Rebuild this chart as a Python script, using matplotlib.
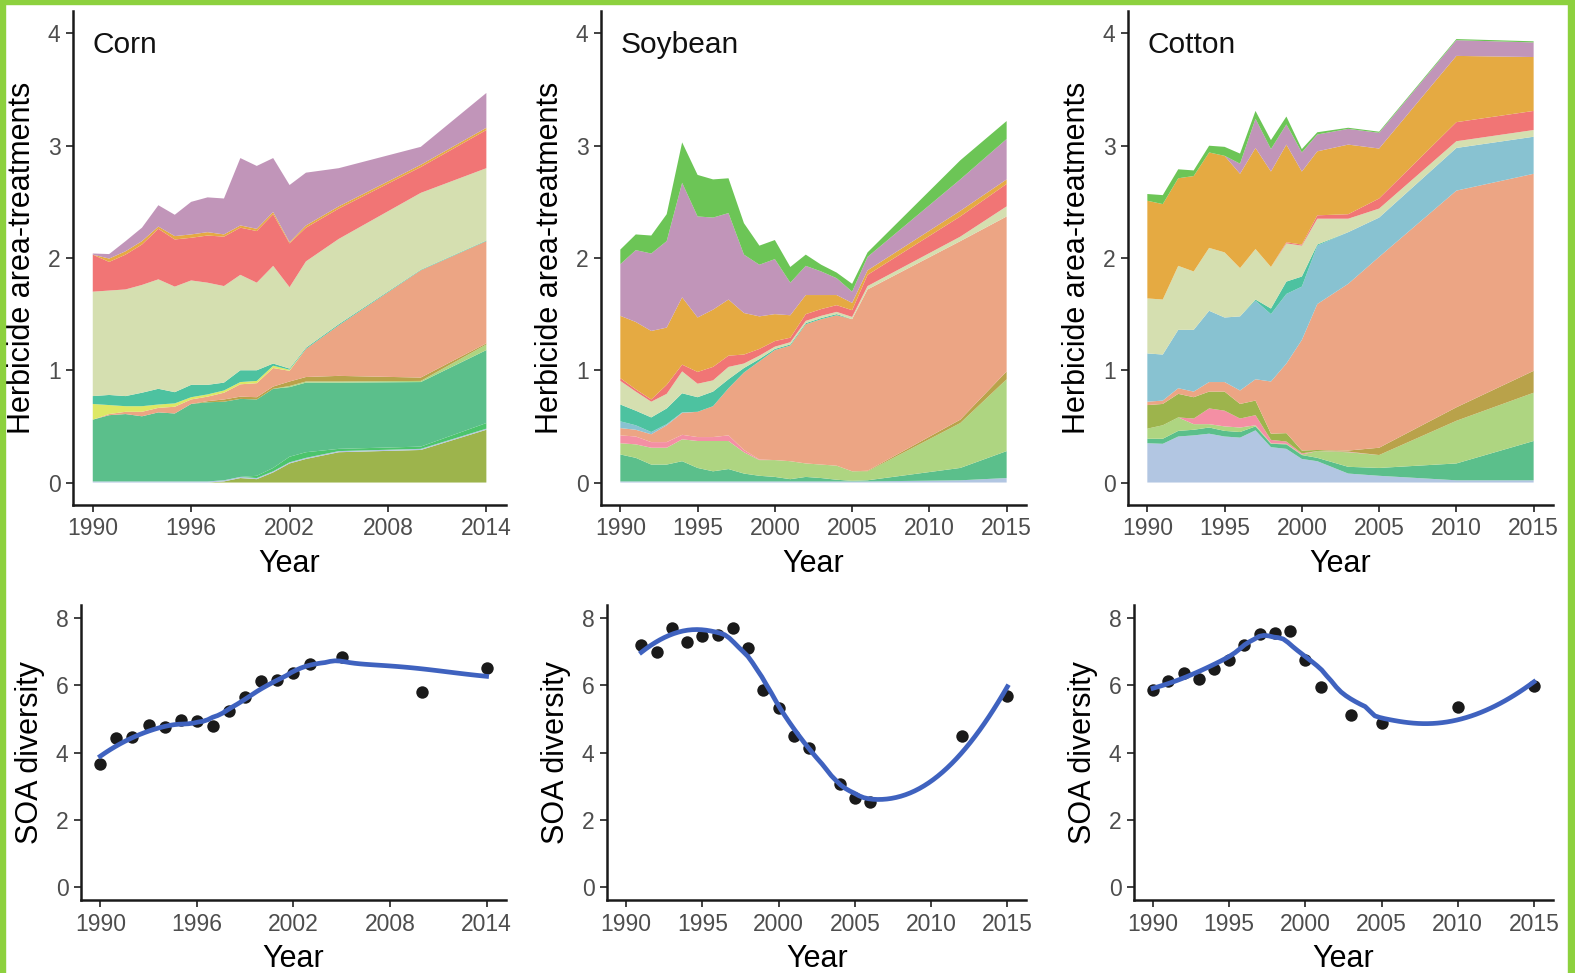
import numpy as np
import matplotlib
matplotlib.use("Agg")
import matplotlib.pyplot as plt
from matplotlib.patches import Rectangle

plt.rcParams['font.family'] = ['Liberation Sans', 'DejaVu Sans']

# colours of the herbicide groups
c_lightblue = '#B2C6E2'
c_medgreen = '#5BBF8B'
c_green2 = '#4CC46C'
c_lightgreen = '#AED581'
c_pink = '#F48FA4'
c_olive = '#9DB44C'
c_brown = '#B9A24A'
c_salmon = '#ECA584'
c_skyblue = '#88C2D1'
c_teal = '#4DC2A0'
c_yellow = '#DDE865'
c_sage = '#D5DFB0'
c_red = '#F17575'
c_orange = '#E5AA42'
c_purple = '#C195B9'
c_topgreen = '#6CC556'

# ---------------- CORN (area-treatments) ----------------
corn_years = [1990, 1991, 1992, 1993, 1994, 1995, 1996, 1997, 1998, 1999, 2000, 2001, 2002, 2003, 2005, 2010, 2014]
corn_olive = [0, 0, 0, 0, 0, 0, 0, 0, 0.01, 0.04, 0.03, 0.09, 0.17, 0.21, 0.27, 0.29, 0.47]
corn_lightblue = [0.01, 0.01, 0.01, 0.01, 0.01, 0.01, 0.01, 0.01, 0.01, 0.01, 0.01, 0.01, 0.01, 0.01, 0.01, 0.01, 0.01]
corn_green2 = [0, 0, 0, 0, 0, 0, 0, 0, 0, 0, 0.02, 0.03, 0.05, 0.05, 0.02, 0.02, 0.05]
corn_medgreen = [0.55, 0.59, 0.60, 0.58, 0.615, 0.605, 0.69, 0.705, 0.70, 0.695, 0.68, 0.705, 0.62, 0.62, 0.59, 0.575, 0.65]
corn_lightgreen = [0, 0, 0, 0, 0, 0, 0, 0, 0, 0, 0, 0, 0.01, 0.01, 0.01, 0.01, 0.05]
corn_brown = [0, 0, 0, 0, 0, 0, 0, 0.01, 0.02, 0.02, 0.02, 0.02, 0.04, 0.04, 0.05, 0.03, 0.01]
corn_salmon = [0, 0.01, 0.02, 0.04, 0.04, 0.06, 0.04, 0.04, 0.06, 0.11, 0.125, 0.165, 0.095, 0.25, 0.45, 0.955, 0.91]
corn_yellow = [0.14, 0.08, 0.05, 0.05, 0.03, 0.03, 0.02, 0.02, 0.02, 0.02, 0.02, 0.02, 0.01, 0, 0, 0, 0]
corn_teal = [0.07, 0.09, 0.09, 0.12, 0.14, 0.10, 0.11, 0.085, 0.07, 0.105, 0.095, 0.02, 0.01, 0.01, 0.01, 0.005, 0.005]
corn_sage = [0.93, 0.93, 0.95, 0.96, 0.975, 0.94, 0.93, 0.91, 0.86, 0.85, 0.78, 0.87, 0.725, 0.77, 0.76, 0.685, 0.645]
corn_red = [0.33, 0.255, 0.31, 0.36, 0.45, 0.42, 0.38, 0.42, 0.44, 0.42, 0.46, 0.46, 0.39, 0.30, 0.27, 0.23, 0.34]
corn_orange = [0.0, 0.03, 0.03, 0.03, 0.02, 0.03, 0.03, 0.03, 0.02, 0.02, 0.02, 0.02, 0.01, 0.02, 0.02, 0.02, 0.02]
corn_purple = [0.01, 0.04, 0.09, 0.12, 0.19, 0.19, 0.29, 0.31, 0.32, 0.60, 0.56, 0.48, 0.51, 0.47, 0.34, 0.16, 0.31]

# ---------------- SOYBEAN ----------------
soy_years = [1990, 1991, 1992, 1993, 1994, 1995, 1996, 1997, 1998, 1999, 2000, 2001, 2002, 2003, 2004, 2005, 2006, 2012, 2015]
soy_lightblue = [0.01, 0.01, 0.01, 0.01, 0.01, 0.01, 0.01, 0.01, 0.01, 0.01, 0.01, 0.01, 0.01, 0.01, 0.01, 0.01, 0.01, 0.02, 0.04]
soy_medgreen = [0.24, 0.21, 0.15, 0.15, 0.18, 0.12, 0.09, 0.11, 0.07, 0.05, 0.04, 0.02, 0.04, 0.03, 0.015, 0.005, 0.01, 0.11, 0.24]
soy_lightgreen = [0.10, 0.12, 0.15, 0.15, 0.195, 0.24, 0.27, 0.25, 0.19, 0.14, 0.15, 0.16, 0.12, 0.12, 0.125, 0.085, 0.08, 0.40, 0.64]
soy_brown = [0, 0, 0, 0, 0, 0, 0, 0, 0, 0, 0, 0, 0, 0, 0, 0, 0.005, 0.03, 0.07]
soy_pink = [0.07, 0.07, 0.05, 0.05, 0.04, 0.035, 0.035, 0.05, 0.02, 0.005, 0, 0, 0, 0, 0, 0, 0, 0, 0]
soy_salmon = [0.065, 0.06, 0.07, 0.15, 0.195, 0.225, 0.275, 0.42, 0.69, 0.875, 0.98, 1.03, 1.24, 1.295, 1.34, 1.355, 1.615, 1.59, 1.38]
soy_skyblue = [0.06, 0.04, 0.02, 0.01, 0.005, 0, 0, 0, 0, 0, 0, 0, 0, 0, 0, 0, 0, 0, 0]
soy_teal = [0.15, 0.13, 0.13, 0.14, 0.17, 0.13, 0.13, 0.08, 0.04, 0.02, 0.01, 0.01, 0.01, 0.01, 0.01, 0, 0, 0, 0]
soy_sage = [0.21, 0.17, 0.14, 0.13, 0.195, 0.12, 0.10, 0.11, 0.04, 0.03, 0.02, 0.02, 0.02, 0.02, 0.02, 0.02, 0.03, 0.04, 0.09]
soy_red = [0.025, 0.02, 0.02, 0.08, 0.06, 0.105, 0.12, 0.10, 0.08, 0.06, 0.05, 0.04, 0.06, 0.06, 0.06, 0.06, 0.10, 0.18, 0.20]
soy_orange = [0.555, 0.60, 0.61, 0.51, 0.60, 0.485, 0.51, 0.50, 0.37, 0.29, 0.24, 0.20, 0.17, 0.125, 0.09, 0.065, 0.04, 0.05, 0.04]
soy_purple = [0.46, 0.64, 0.69, 0.77, 1.02, 0.90, 0.82, 0.77, 0.52, 0.46, 0.49, 0.29, 0.26, 0.21, 0.15, 0.10, 0.12, 0.28, 0.36]
soy_topgreen = [0.13, 0.14, 0.16, 0.24, 0.36, 0.37, 0.34, 0.31, 0.28, 0.17, 0.17, 0.14, 0.10, 0.06, 0.05, 0.07, 0.04, 0.17, 0.16]

# ---------------- COTTON ----------------
cot_years = [1990, 1991, 1992, 1993, 1994, 1995, 1996, 1997, 1998, 1999, 2000, 2001, 2003, 2005, 2010, 2015]
cot_lightblue = [0.35, 0.345, 0.41, 0.42, 0.435, 0.41, 0.40, 0.465, 0.315, 0.30, 0.21, 0.19, 0.08, 0.06, 0.02, 0.02]
cot_medgreen = [0.04, 0.045, 0.05, 0.05, 0.055, 0.05, 0.05, 0.035, 0.03, 0.04, 0.035, 0.03, 0.06, 0.07, 0.15, 0.35]
cot_lightgreen = [0.09, 0.12, 0.12, 0.05, 0.03, 0.04, 0.04, 0.01, 0.005, 0.005, 0.005, 0.06, 0.13, 0.115, 0.38, 0.43]
cot_pink = [0, 0, 0, 0.05, 0.14, 0.14, 0.08, 0.09, 0.03, 0.02, 0.01, 0, 0.005, 0, 0, 0]
cot_olive = [0.21, 0.19, 0.21, 0.19, 0.15, 0.17, 0.13, 0.13, 0.055, 0.075, 0.025, 0.01, 0, 0, 0, 0]
cot_brown = [0, 0, 0, 0, 0, 0, 0, 0, 0, 0, 0, 0, 0.01, 0.065, 0.12, 0.195]
cot_salmon = [0.03, 0.03, 0.05, 0.05, 0.085, 0.085, 0.12, 0.19, 0.465, 0.62, 0.985, 1.30, 1.485, 1.70, 1.93, 1.755]
cot_skyblue = [0.43, 0.41, 0.52, 0.55, 0.635, 0.575, 0.66, 0.70, 0.60, 0.62, 0.475, 0.52, 0.46, 0.35, 0.38, 0.33]
cot_teal = [0, 0, 0, 0, 0, 0, 0, 0.01, 0.05, 0.11, 0.09, 0.01, 0, 0, 0, 0]
cot_sage = [0.49, 0.49, 0.57, 0.52, 0.56, 0.58, 0.43, 0.45, 0.37, 0.34, 0.275, 0.23, 0.12, 0.08, 0.06, 0.06]
cot_red = [0, 0, 0, 0, 0, 0, 0, 0, 0, 0.01, 0.01, 0.03, 0.04, 0.09, 0.17, 0.17]
cot_orange = [0.87, 0.85, 0.78, 0.85, 0.85, 0.86, 0.84, 0.90, 0.85, 0.87, 0.65, 0.57, 0.62, 0.445, 0.59, 0.48]
cot_purple = [0, 0, 0, 0, 0, 0, 0.09, 0.26, 0.20, 0.18, 0.17, 0.15, 0.14, 0.14, 0.14, 0.13]
cot_topgreen = [0.06, 0.08, 0.08, 0.05, 0.06, 0.08, 0.09, 0.07, 0.08, 0.07, 0.03, 0.02, 0.01, 0.01, 0.01, 0.01]

# ---------------- SOA diversity points ----------------
corn_soa_years = [1990, 1991, 1992, 1993, 1994, 1995, 1996, 1997, 1998, 1999, 2000, 2001, 2002, 2003, 2005, 2010, 2014]
corn_soa = [3.67, 4.43, 4.47, 4.83, 4.76, 4.96, 4.94, 4.78, 5.23, 5.67, 6.14, 6.17, 6.37, 6.65, 6.85, 5.82, 6.53]
soy_soa_years = [1991, 1992, 1993, 1994, 1995, 1996, 1997, 1998, 1999, 2000, 2001, 2002, 2004, 2005, 2006, 2012, 2015]
soy_soa = [7.21, 7.01, 7.72, 7.31, 7.48, 7.50, 7.70, 7.13, 5.85, 5.33, 4.50, 4.14, 3.05, 2.63, 2.52, 4.50, 5.70]
cot_soa_years = [1990, 1991, 1992, 1993, 1994, 1995, 1996, 1997, 1998, 1999, 2000, 2001, 2003, 2005, 2010, 2015]
cot_soa = [5.87, 6.14, 6.36, 6.20, 6.50, 6.77, 7.20, 7.54, 7.57, 7.62, 6.75, 5.94, 5.12, 4.88, 5.35, 5.99]

TICK_COL = '#4D4D4D'


def loess(x, y, xs, span=0.75):
    # local quadratic fit with tricube weights (like geom_smooth default)
    x = np.asarray(x, float)
    y = np.asarray(y, float)
    n = len(x)
    q = int(np.floor(n * span))
    out = []
    for x0 in xs:
        d = np.abs(x - x0)
        h = np.sort(d)[q - 1]
        u = np.clip(d / h, 0, 1)
        w = (1 - u ** 3) ** 3
        X = np.vstack([np.ones(n), x - x0, (x - x0) ** 2]).T
        W = np.diag(w)
        beta = np.linalg.solve(X.T @ W @ X, X.T @ W @ y)
        out.append(beta[0])
    return np.array(out)


def style(ax, xlim, xticks, ylim, yticks, ylabel):
    ax.set_xlim(*xlim)
    ax.set_ylim(*ylim)
    ax.set_xticks(xticks)
    ax.set_yticks(yticks)
    for s in ['top', 'right']:
        ax.spines[s].set_visible(False)
    for s in ['left', 'bottom']:
        ax.spines[s].set_linewidth(1.8)
        ax.spines[s].set_color('#1a1a1a')
    ax.tick_params(direction='out', length=5, width=1.3, color='#333333',
                   labelsize=16.5, labelcolor=TICK_COL, pad=4)
    ax.set_xlabel('Year', fontsize=22, labelpad=6)
    ax.set_ylabel(ylabel, fontsize=22, labelpad=8)


fig = plt.figure(figsize=(15.75, 9.73), dpi=100)

top_b, top_h = 0.481, 0.5077
bot_b, bot_h = 0.075, 0.3032

# top row: stacked areas
ax1 = fig.add_axes([0.0464, top_b, 0.2749, top_h])
ax1.stackplot(corn_years, corn_olive, corn_lightblue, corn_green2, corn_medgreen, corn_lightgreen,
              corn_brown, corn_salmon, corn_yellow, corn_teal, corn_sage, corn_red, corn_orange, corn_purple,
              colors=[c_olive, c_lightblue, c_green2, c_medgreen, c_lightgreen, c_brown, c_salmon,
                      c_yellow, c_teal, c_sage, c_red, c_orange, c_purple], lw=0)
style(ax1, (1988.8, 2015.2), [1990, 1996, 2002, 2008, 2014], (-0.2, 4.2), [0, 1, 2, 3, 4],
      'Herbicide area-treatments')
ax1.text(1990, 3.9, 'Corn', fontsize=21.5, va='center', ha='left', color='#111111')

ax2 = fig.add_axes([0.3816, top_b, 0.2698, top_h])
ax2.stackplot(soy_years, soy_lightblue, soy_medgreen, soy_lightgreen, soy_brown, soy_pink, soy_salmon,
              soy_skyblue, soy_teal, soy_sage, soy_red, soy_orange, soy_purple, soy_topgreen,
              colors=[c_lightblue, c_medgreen, c_lightgreen, c_brown, c_pink, c_salmon, c_skyblue,
                      c_teal, c_sage, c_red, c_orange, c_purple, c_topgreen], lw=0)
style(ax2, (1988.75, 2016.25), [1990, 1995, 2000, 2005, 2010, 2015], (-0.2, 4.2), [0, 1, 2, 3, 4],
      'Herbicide area-treatments')
ax2.text(1990, 3.9, 'Soybean', fontsize=21.5, va='center', ha='left', color='#111111')

ax3 = fig.add_axes([0.7162, top_b, 0.2698, top_h])
ax3.stackplot(cot_years, cot_lightblue, cot_medgreen, cot_lightgreen, cot_pink, cot_olive, cot_brown,
              cot_salmon, cot_skyblue, cot_teal, cot_sage, cot_red, cot_orange, cot_purple, cot_topgreen,
              colors=[c_lightblue, c_medgreen, c_lightgreen, c_pink, c_olive, c_brown, c_salmon,
                      c_skyblue, c_teal, c_sage, c_red, c_orange, c_purple, c_topgreen], lw=0)
style(ax3, (1988.75, 2016.25), [1990, 1995, 2000, 2005, 2010, 2015], (-0.2, 4.2), [0, 1, 2, 3, 4],
      'Herbicide area-treatments')
ax3.text(1990, 3.9, 'Cotton', fontsize=21.5, va='center', ha='left', color='#111111')

# bottom row: SOA diversity with smooth
bottom = [
    (0.0514, 0.2698, corn_soa_years, corn_soa, (1988.8, 2015.2), [1990, 1996, 2002, 2008, 2014]),
    (0.3854, 0.2663, soy_soa_years, soy_soa, (1988.75, 2016.25), [1990, 1995, 2000, 2005, 2010, 2015]),
    (0.7200, 0.2660, cot_soa_years, cot_soa, (1988.75, 2016.25), [1990, 1995, 2000, 2005, 2010, 2015]),
]
for left, width, yrs, vals, xl, xt in bottom:
    ax = fig.add_axes([left, bot_b, width, bot_h])
    xs = np.linspace(min(yrs), max(yrs), 80)
    ax.scatter(yrs, vals, s=80, color='#1a1a1a', zorder=2, linewidths=0)
    ax.plot(xs, loess(yrs, vals, xs), color='#3F62BF', lw=3.4, zorder=3)
    style(ax, xl, xt, (-0.4, 8.4), [0, 2, 4, 6, 8], 'SOA diversity')

# green frame
green = '#8DD13E'
fig.patches.append(Rectangle((0, 1 - 4 / 973), 1, 4 / 973, transform=fig.transFigure,
                             color=green, zorder=10))
fig.patches.append(Rectangle((0, 0), 5 / 1575, 1, transform=fig.transFigure, color=green, zorder=10))
fig.patches.append(Rectangle((1 - 7 / 1575, 0), 7 / 1575, 1, transform=fig.transFigure,
                             color=green, zorder=10))

fig.savefig('out.png', dpi=100)
